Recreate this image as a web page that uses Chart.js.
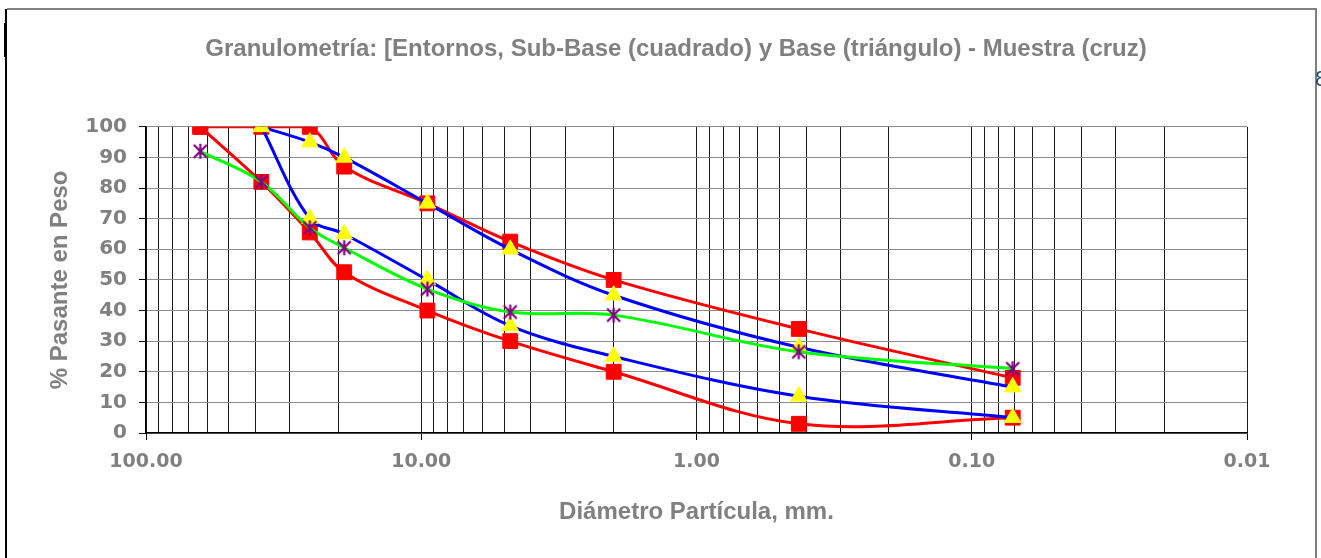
<!DOCTYPE html>
<html>
<head>
<meta charset="utf-8">
<script src="https://cdn.jsdelivr.net/npm/chart.js@4.4.1/dist/chart.umd.min.js"></script>
<style>
  html, body { margin: 0; padding: 0; background: #fff; overflow: hidden; }
  #wrap { position: relative; width: 1321px; height: 558px; }
  #chart { position: absolute; left: 0; top: 0; }
  .edge { position: absolute; }
  #stray { position: absolute; left: 1315px; top: 66px; font: 22px "Liberation Sans", Arial, sans-serif; color: #1f4e79; }
</style>
</head>
<body>
<div id="wrap">
  <canvas id="chart" width="1321" height="558"></canvas>
  <div class="edge" style="left:7px; top:8px; width:1310px; height:2px; background:#7f7f7f;"></div>
  <div class="edge" style="left:5px; top:9px; width:2px; height:549px; background:#000;"></div>
  <div class="edge" style="left:4px; top:23px; width:2px; height:34px; background:#000;"></div>
  <div class="edge" style="left:1315px; top:8px; width:2px; height:550px; background:#7f7f7f;"></div>
  <div id="stray">8</div>
</div>
<script>
window.addEventListener("load", init);

// tamices (mm) y porcentajes que pasan
let sieveSizes = [63.5, 38.1, 25.4, 19.05, 9.5, 4.75, 2.0, 0.425, 0.071];
let subBaseUpper = [100, 100, 100, 87, 75, 62.5, 50, 34, 18];
let subBaseLower = [100, 82, 65.5, 52.5, 40, 30, 20, 3, 5];
let baseUpper = [null, 100, 95, 90, 75, 60, 45, 28, 15];
let baseLower = [null, 100, 70, 65, 50, 35, 25, 12, 5];
let muestra = [92, 82, 67, 60.5, 47, 39.5, 38.5, 26.5, 21];

let xMajorTicks = [100, 10, 1, 0.1, 0.01];
let xMajorLabels = ["100.00", "10.00", "1.00", "0.10", "0.01"];

let chartTitle = "Granulometría: [Entornos, Sub-Base (cuadrado) y Base (triángulo) - Muestra (cruz)";
let xTitle = "Diámetro Partícula, mm.";
let yTitle = "% Pasante en Peso";

const GRAY = "#808080";

function points(values) {
  let pts = [];
  for(let i = 0; i < sieveSizes.length; i++) {
    if(values[i] !== null) {
      pts.push({ x: sieveSizes[i], y: values[i] });
    }
  }
  return pts;
}

function starMarker() {
  let c = document.createElement("canvas");
  c.width = 17;
  c.height = 17;
  let g = c.getContext("2d");
  g.strokeStyle = "#800080";
  g.lineWidth = 2.2;
  g.beginPath();
  g.moveTo(2, 2); g.lineTo(15, 15);
  g.moveTo(15, 2); g.lineTo(2, 15);
  g.moveTo(8.5, 1); g.lineTo(8.5, 16);
  g.stroke();
  return c;
}

function isMajor(v) {
  return xMajorTicks.some(m => Math.abs(v - m) / m < 1e-6);
}

function init() {
  let ctx = document.querySelector("#chart").getContext("2d");

  let redLine = { borderColor: "#ff0000", borderWidth: 3, pointStyle: "rect", pointRadius: 10.5,
    pointBackgroundColor: "#ff0000", pointBorderColor: "#ff0000", pointBorderWidth: 1, order: 3 };
  let blueLine = { borderColor: "#0000ff", borderWidth: 3, pointStyle: "triangle", pointRadius: 9.5,
    pointBackgroundColor: "#ffff00", pointBorderColor: "#ffff00", pointBorderWidth: 1, order: 2 };

  let datasets = [
    Object.assign({ label: "Sub-Base sup", data: points(subBaseUpper) }, redLine),
    Object.assign({ label: "Sub-Base inf", data: points(subBaseLower) }, redLine),
    Object.assign({ label: "Base sup", data: points(baseUpper) }, blueLine),
    Object.assign({ label: "Base inf", data: points(baseLower) }, blueLine),
    {
      label: "Muestra",
      data: points(muestra),
      borderColor: "#00ff00",
      borderWidth: 3,
      pointStyle: starMarker(),
      order: 1,
    }
  ];

  new Chart(ctx, {
    type: "line",
    data: { datasets: datasets },
    options: {
      responsive: false,
      animation: false,
      layout: { padding: { left: 31, right: 0 } },
      elements: { line: { tension: 0.35 } },
      plugins: {
        legend: { display: false },
        tooltip: { enabled: false },
        title: {
          display: true,
          text: chartTitle,
          color: GRAY,
          font: { family: "'Liberation Sans', Arial, sans-serif", size: 24, weight: "bold" },
          padding: { top: 35, bottom: 63 },
        },
      },
      scales: {
        x: {
          type: "logarithmic",
          reverse: true,
          min: 0.01,
          max: 100,
          afterBuildTicks: (scale) => {
            let ticks = [{ value: 100 }];
            for(let e = 1; e >= -2; e--) {
              for(let m = 9; m >= 1; m--) {
                ticks.push({ value: Number((m * Math.pow(10, e)).toPrecision(3)) });
              }
            }
            scale.ticks = ticks;
          },
          afterFit: (scale) => { scale.height = 125; },
          ticks: {
            autoSkip: false,
            maxRotation: 0,
            padding: 11,
            color: GRAY,
            font: { family: "'DejaVu Sans', sans-serif", size: 19, weight: "bold" },
            callback: function(value) {
              let i = xMajorTicks.findIndex(m => Math.abs(value - m) / m < 1e-6);
              return i >= 0 ? xMajorLabels[i] : "";
            }
          },
          grid: {
            color: "#1a1a1a",
            lineWidth: 1,
            tickLength: 7,
            tickColor: (c) => (c.tick && isMajor(c.tick.value)) ? "#000" : "rgba(0,0,0,0)",
          },
          border: { color: "#000", width: 1.5 },
          title: {
            display: true,
            text: xTitle,
            color: GRAY,
            font: { family: "'Liberation Sans', Arial, sans-serif", size: 24, weight: "bold" },
            padding: { top: 0, bottom: 31 },
          }
        },
        y: {
          min: 0,
          max: 100,
          afterFit: (scale) => { scale.width = 115; },
          ticks: {
            stepSize: 10,
            padding: 12,
            color: GRAY,
            font: { family: "'DejaVu Sans', sans-serif", size: 20, weight: "bold" },
          },
          grid: {
            color: "#8c8c8c",
            lineWidth: 1,
            tickLength: 7,
            tickColor: "#000",
          },
          border: { color: "#000", width: 1.5 },
          title: {
            display: true,
            text: yTitle,
            color: GRAY,
            font: { family: "'Liberation Sans', Arial, sans-serif", size: 24, weight: "bold" },
            padding: { top: 15, bottom: 0 },
          }
        },
        yRight: {
          position: "right",
          min: 0,
          max: 100,
          afterFit: (scale) => { scale.width = 74; },
          ticks: { display: false },
          grid: { display: false },
          border: { display: false },
        }
      }
    }
  });
}
</script>
</body>
</html>
